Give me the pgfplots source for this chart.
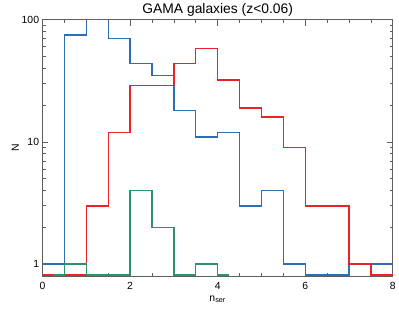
\documentclass[border=0pt]{standalone}
\usepackage{pgfplots}
\pgfplotsset{compat=1.18}
\usepackage{fontspec}
\setmainfont{Liberation Sans}
\definecolor{cblue}{RGB}{45,110,180}
\definecolor{cred}{RGB}{235,35,40}
\definecolor{cgreen}{RGB}{45,145,105}
\definecolor{caxis}{RGB}{95,95,95}
\begin{document}
\begin{tikzpicture}
\begin{axis}[
  scale only axis, width=354pt, height=259pt,
  at={(0,0)}, anchor=south west,
  ymode=log, xmin=0, xmax=8, ymin=0.8, ymax=100,
  xtick={0,2,4,6,8}, minor x tick num=3,
  ytick={1,10,100}, yticklabels={1,10,100},
  xtick pos=both, ytick pos=both,
  tick align=inside,
  major tick length=6pt, minor tick length=3pt,
  tick style={caxis, line width=0.7pt},
  axis line style={caxis, line width=0.9pt},
  /pgf/number format/assume math mode=true,
  ticklabel style={font=\fontsize{10.5}{12}\selectfont},
  xticklabel style={yshift=-3pt},
  title={GAMA galaxies (z<0.06)},
  title style={font=\fontsize{14}{16}\selectfont, yshift=-6pt},
  xlabel={n\textsubscript{ser}},
  xlabel style={font=\fontsize{10.5}{12}\selectfont, yshift=1pt},
  ylabel={N},
  ylabel style={font=\fontsize{10.5}{12}\selectfont, yshift=-4pt},
  clip=false,
  axis on top=false,
]
\addplot[const plot mark left, cblue, line width=1.4pt] coordinates {
(0,1) (0.5,75) (1,100) (1.5,70) (2,44) (2.5,35) (3,18) (3.5,11) (4,12) (4.5,3) (5,4) (5.5,1) (6,0.815) (7,1) (8,1)
};
\addplot[const plot mark left, cred, line width=1.4pt] coordinates {
(0,0.815) (1,3) (1.5,12) (2,29) (3,44) (3.5,58) (4,32) (4.5,19) (5,16) (5.5,9) (6,3) (7,1) (7.5,0.815) (8,0.815)
};
\addplot[const plot mark left, cgreen, line width=1.4pt] coordinates {
(0.25,0.815) (0.5,1) (1,0.815) (2,4) (2.5,2) (3,0.815) (3.5,1) (4,0.815) (4.25,0.815)
};
\end{axis}
\path[use as bounding box] (-43pt,-33pt) rectangle (356pt,277pt);
\end{tikzpicture}
\end{document}
